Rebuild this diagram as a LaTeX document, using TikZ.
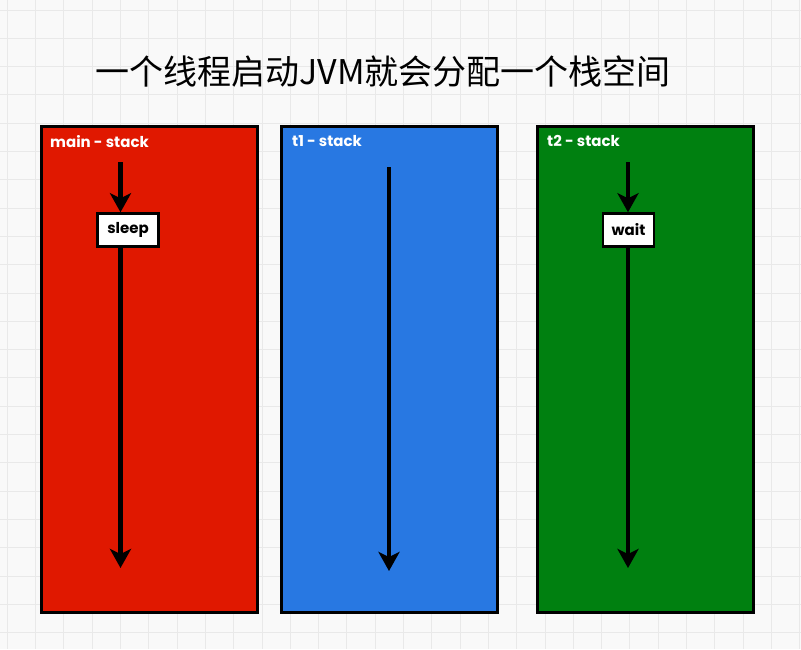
\documentclass[tikz,border=0pt]{standalone}
\usepackage{fontspec}
\setmainfont{Poppins}
\newfontfamily\cjk{Noto Sans CJK SC}
\usetikzlibrary{arrows.meta,positioning}

\definecolor{mainred}{HTML}{E01800}
\definecolor{tblue}{HTML}{2878E2}
\definecolor{tgreen}{HTML}{008010}
\definecolor{gridline}{HTML}{E9E9E9}
\definecolor{paper}{HTML}{F9F9F9}

\def\xMin{0}
\def\xMax{801}
\def\yMin{0}
\def\yMax{649}

\tikzset{
  stack/.style={draw=black, line width=3pt, minimum width=216pt, minimum height=486pt, inner sep=0pt},
  stacklabel/.style={text=white, font=\bfseries\fontsize{15}{17}\selectfont, anchor=north west, inner sep=0pt},
  callbox/.style={draw=black, fill=white, line width=2.5pt, minimum height=33pt, inner sep=3pt, font=\bfseries\fontsize{15}{17}\selectfont},
  flow/.style={line width=4.5pt, -{Stealth[length=19pt,width=21pt,inset=5pt]}},
}

\begin{document}
\begin{tikzpicture}[x=1pt, y=-1pt]
  \useasboundingbox (\xMin,\yMin) rectangle (\xMax,\yMax);
  \fill[paper] (\xMin,\yMin) rectangle (\xMax,\yMax);
  \foreach \i in {0,...,28} {
      \draw [gridline, line width=1pt] ({7.3+28.3*\i},\yMin) -- ({7.3+28.3*\i},\yMax);
  }
  \foreach \i in {0,...,22} {
      \draw [gridline, line width=1pt] (\xMin,{10+28.3*\i}) -- (\xMax,{10+28.3*\i});
  }

  \node[font=\cjk\fontsize{34}{40}\selectfont] (title) at (383,72) {一个线程启动JVM就会分配一个栈空间};

  % stacks
  \node[stack, fill=mainred] (main) at (149,369) {};
  \node[stack, fill=tblue] (t1) at (389.5,369) {};
  \node[stack, fill=tgreen] (t2) at (645,369) {};
  \node[stacklabel] (mainLbl) at (50,135) {main - stack};
  \node[stacklabel] (t1Lbl) at (292,135) {t1 - stack};
  \node[stacklabel] (t2Lbl) at (547,135) {t2 - stack};

  % main thread
  \coordinate (mTop) at (120.5,162);
  \coordinate (mEnd) at (120.5,568);
  \node[callbox, minimum width=61pt] (sleep) at (128,230) {sleep};
  \draw[flow] (mTop) -- (mTop |- sleep.north);
  \draw[flow] (mTop |- sleep.south) -- (mEnd);

  % t1
  \coordinate (aTop) at (389,167);
  \coordinate (aEnd) at (389,571);
  \draw[flow] (aTop) -- (aEnd);

  % t2
  \coordinate (bTop) at (628,162);
  \coordinate (bEnd) at (628,568);
  \node[callbox, minimum width=51pt] (wait) at (628.5,230) {wait};
  \draw[flow] (bTop) -- (bTop |- wait.north);
  \draw[flow] (bTop |- wait.south) -- (bEnd);
\end{tikzpicture}
\end{document}
